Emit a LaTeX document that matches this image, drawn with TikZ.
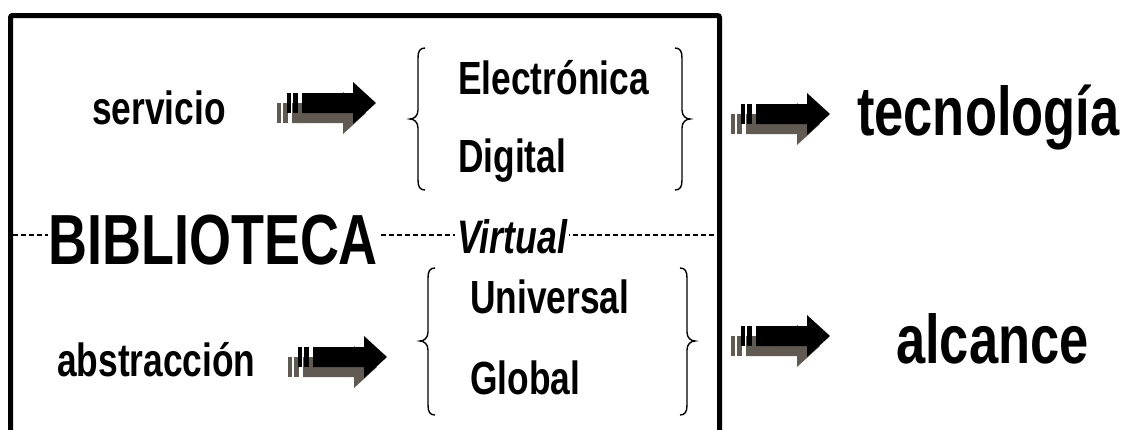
\documentclass[tikz,border=0pt]{standalone}
\usepackage{fontspec}
\setmainfont{Liberation Sans}[FakeStretch=0.76]
\definecolor{shadowgray}{RGB}{96,90,82}
\tikzset{
  lbl/.style={inner sep=0pt, anchor=base west},
  midtext/.style={lbl, font=\bfseries\fontsize{46.5}{52}\selectfont},
  sidetext/.style={lbl, font=\bfseries\fontsize{46.5}{52}\selectfont},
  bigtext/.style={lbl, font=\bfseries\fontsize{69}{75}\selectfont},
  bracepath/.style={line width=1.4pt},
  fatarrow/.pic={
    \begin{scope}[shift={(-10,10)}]
      \fill[shadowgray] (-74,-10) -- (-23,-10) -- (-23,-21) -- (0,0) -- (-23,21) -- (-23,10) -- (-74,10) -- cycle;
      \fill[shadowgray] (-89,-10) rectangle (-85,10);
      \fill[shadowgray] (-83,-10) rectangle (-78,10);
    \end{scope}
    \fill[black] (-74,-10) -- (-23,-10) -- (-23,-21) -- (0,0) -- (-23,21) -- (-23,10) -- (-74,10) -- cycle;
    \fill[black] (-89,-10) rectangle (-85,10);
    \fill[black] (-83,-10) rectangle (-78,10);
  }
}
\newcommand{\mylbrace}[4]{% tip x, top y, bottom y, mid y
  \draw[bracepath] ({#1+15},#2) .. controls ({#1+10},#2) and ({#1+8},{#2+3}) .. ({#1+8},{#2+10})
    -- ({#1+8},{#4-9}) .. controls ({#1+8},{#4-3}) and ({#1+4},#4) .. (#1,#4)
    .. controls ({#1+4},#4) and ({#1+8},{#4+3}) .. ({#1+8},{#4+9})
    -- ({#1+8},{#3-10}) .. controls ({#1+8},{#3-3}) and ({#1+10},#3) .. ({#1+15},#3);}
\newcommand{\myrbrace}[4]{% tip x, top y, bottom y, mid y
  \draw[bracepath] ({#1-15},#2) .. controls ({#1-10},#2) and ({#1-8},{#2+3}) .. ({#1-8},{#2+10})
    -- ({#1-8},{#4-9}) .. controls ({#1-8},{#4-3}) and ({#1-4},#4) .. (#1,#4)
    .. controls ({#1-4},#4) and ({#1-8},{#4+3}) .. ({#1-8},{#4+9})
    -- ({#1-8},{#3-10}) .. controls ({#1-8},{#3-3}) and ({#1-10},#3) .. ({#1-15},#3);}
\begin{document}
\begin{tikzpicture}[x=1pt,y=-1pt]
\useasboundingbox (0,0) rectangle (1127,429);
\clip (0,0) rectangle (1127,429);
% frame
\draw[line width=5pt, rounded corners=2pt] (10.5,445) -- (10.5,15.5) -- (719.5,15.5) -- (719.5,445);
% dashed divider
\coordinate (dl) at (13,235);
\coordinate (dr) at (717,235);
\draw[line width=1.3pt, dash pattern=on 5pt off 3pt] (dl) -- (dr);
% texts
\node[sidetext] (serv) at (92,124) {servicio};
\node[midtext] (elec) at (458,94) {Electrónica};
\node[midtext] (digi) at (458,172) {Digital};
\node[bigtext] (tecn) at (857,135) {tecnología};
\node[lbl, fill=white, font=\bfseries\fontsize{71}{76}\selectfont] (bibl) at (48,264) {BIBLIOTECA};
\node[lbl, fill=white, inner xsep=2pt, font=\bfseries\itshape\fontsize{47}{52}\selectfont] (virt) at (455,253) {Virtual};
\node[midtext] (univ) at (470,313) {Universal};
\node[midtext] (glob) at (470,394) {Global};
\node[sidetext] (abst) at (57,376) {abstracción};
\node[bigtext] (alca) at (896,363) {alcance};
% braces
\mylbrace{410}{48}{190}{119}
\myrbrace{690}{48}{190}{119}
\mylbrace{420}{268}{415}{341}
\myrbrace{695}{268}{415}{341}
% arrows
\pic at (376,103) {fatarrow};
\pic at (830,114) {fatarrow};
\pic at (387,357) {fatarrow};
\pic at (830,336) {fatarrow};
\end{tikzpicture}
\end{document}
